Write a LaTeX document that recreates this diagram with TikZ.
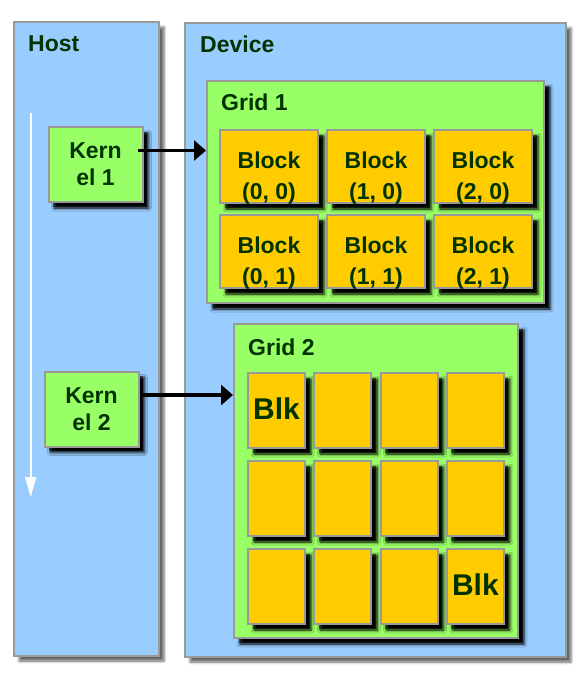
\documentclass[tikz,border=0pt]{standalone}
\usepackage{fontspec}
\setmainfont{Liberation Sans}
\usetikzlibrary{arrows.meta,shadows,shadows.blur}
\definecolor{hostblue}{HTML}{99CCFF}
\definecolor{gridgreen}{HTML}{99FF66}
\definecolor{blockorange}{HTML}{FFCC00}
\definecolor{edgegray}{HTML}{999999}
\definecolor{txtgreen}{HTML}{003300}
\begin{document}
\begin{tikzpicture}[x=1pt,y=-1pt,
  darkshadow/.style={blur shadow={shadow xshift=6pt, shadow yshift=-6pt, shadow blur radius=3pt, shadow opacity=100},
    drop shadow={shadow xshift=4.5pt, shadow yshift=-4.5pt, fill=black, opacity=0.55}},
  panel/.style={draw=edgegray, line width=2pt, fill=hostblue, anchor=north west, inner sep=0pt,
    blur shadow={shadow xshift=5pt, shadow yshift=-5pt, shadow blur radius=2.5pt, shadow opacity=60}},
  gridbox/.style={draw=edgegray, line width=2pt, fill=gridgreen, anchor=north west, inner sep=0pt, darkshadow},
  kernbox/.style={draw=edgegray, line width=2pt, fill=gridgreen, inner sep=0pt,
    minimum width=94pt, minimum height=75pt, align=center, text=txtgreen,
    font=\bfseries\fontsize{23}{27}\selectfont, darkshadow},
  blkone/.style={draw=edgegray, line width=2pt, fill=blockorange, anchor=north west, inner sep=0pt,
    minimum width=98pt, minimum height=73pt, darkshadow},
  blktwo/.style={blkone, minimum width=57pt, minimum height=75pt},
  lbl/.style={font=\bfseries\fontsize{23}{27}\selectfont, text=txtgreen, anchor=base west, inner sep=0pt},
  blocktxt/.style={font=\bfseries\fontsize{23}{31}\selectfont, text=txtgreen, align=center, inner sep=0pt},
  blktxt/.style={font=\bfseries\fontsize{30}{34}\selectfont, text=txtgreen, anchor=base, inner sep=0pt},
  karrow/.style={line width=3.5pt, -{Triangle[length=12pt,width=20pt]}},
  timearrow/.style={draw=white, line width=2pt, -{Triangle[length=20pt,width=11pt]}}
]
\useasboundingbox (0,0) rectangle (584,678);
% panels
\node[panel, minimum width=145pt, minimum height=634pt] (host) at (13,21) {};
\node[panel, minimum width=381pt, minimum height=634pt] (device) at (184,22) {};
\node[lbl] (hostlbl) at (28,51.7) {Host};
\node[lbl] (devlbl) at (200,52.7) {Device};
% time arrow
\coordinate (ts) at (30.7,113);
\coordinate (te) at (30.7,497);
\draw[timearrow] (ts) -- (te);
% kernels
\node[kernbox] (k1) at (95.5,164.5) {Kern\\el 1};
\node[kernbox] (k2) at (91.5,409) {Kern\\el 2};
% grid 1
\node[gridbox, minimum width=337pt, minimum height=222pt] (g1) at (206,80) {};
\node[lbl] (g1lbl) at (221,110.7) {Grid 1};
\foreach \c in {0,1,2} {
  \foreach \r in {0,1} {
    \node[blkone] (b\c\r) at ({219+107*\c},{129+85*\r}) {};
    \node[blocktxt] (t\c\r) at ([yshift=-12pt]b\c\r.center) {Block\\(\c, \r)};
  }
}
% grid 2
\node[gridbox, minimum width=284pt, minimum height=314pt] (g2) at (233,323) {};
\node[lbl] (g2lbl) at (248,355) {Grid 2};
\foreach \c in {0,1,2,3} {
  \foreach \r in {0,1,2} {
    \node[blktwo] (s\c\r) at ({247+66.3*\c},{372+88*\r}) {};
  }
}
\node[blktxt] (blka) at ([yshift=-9pt]s00.center) {Blk};
\node[blktxt] (blkb) at ([yshift=-9pt]s32.center) {Blk};
% launch arrows
\draw[karrow] ([xshift=-6pt,yshift=14pt]k1.east) -- ([yshift=14pt]k1.east -| g1.west);
\draw[karrow] ([yshift=14pt]k2.east) -- ([yshift=14pt]k2.east -| g2.west);
\end{tikzpicture}
\end{document}
